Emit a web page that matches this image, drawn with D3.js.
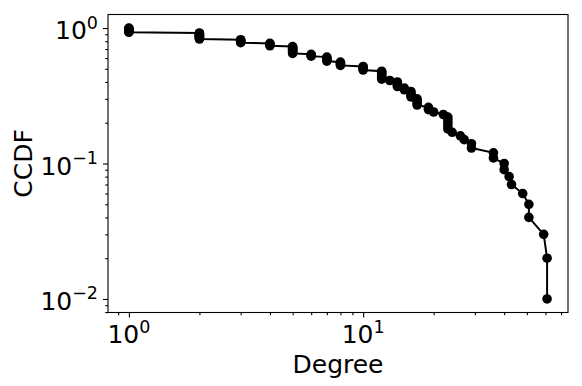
<!DOCTYPE html>
<html>
<head>
<meta charset="utf-8">
<script src="https://cdn.jsdelivr.net/npm/d3@7/dist/d3.min.js"></script>
<style>
  html, body { margin: 0; padding: 0; background: #fff; }
  svg { display: block; }
  text { font-family: "DejaVu Sans", sans-serif; fill: #000; }
</style>
</head>
<body>
<svg id="chart" width="582" height="386"></svg>
<script>
// Node degrees, sorted ascending (one entry per node)
const degree = [
  1,1,1,1,1,1,1,1,
  2,2,2,2,2,2,2,2,2,2,
  3,3,3,3,3,
  4,4,4,4,
  5,5,5,5,5,5,5,5,5,
  6,6,6,
  7,7,7,7,7,
  8,8,8,8,
  10,10,10,10,
  12,12,12,12,12,12,12,
  13,
  14,14,14,14,
  15,15,
  16,16,16,16,
  17,17,17,17,
  19,19,
  20,
  22,
  23,23,23,23,23,
  24,
  26,
  27,
  29,29,
  36,36,
  40,40,
  42,
  43,
  48,
  51,51,
  59,
  61,61
];
// CCDF value of each node above
const ccdf = [
  1.00,0.99,0.98,0.97,0.96,0.95,0.94,0.93,
  0.92,0.91,0.90,0.89,0.88,0.87,0.86,0.85,0.84,0.83,
  0.82,0.81,0.80,0.79,0.78,
  0.77,0.76,0.75,0.74,
  0.73,0.72,0.71,0.70,0.69,0.68,0.67,0.66,0.65,
  0.64,0.63,0.62,
  0.61,0.60,0.59,0.58,0.57,
  0.56,0.55,0.54,0.53,
  0.52,0.51,0.50,0.49,
  0.48,0.47,0.46,0.45,0.44,0.43,0.42,
  0.41,
  0.40,0.39,0.38,0.37,
  0.36,0.35,
  0.34,0.33,0.32,0.31,
  0.30,0.29,0.28,0.27,
  0.26,0.25,
  0.24,
  0.23,
  0.22,0.21,0.20,0.19,0.18,
  0.17,
  0.16,
  0.15,
  0.14,0.13,
  0.12,0.11,
  0.10,0.09,
  0.08,
  0.07,
  0.06,
  0.05,0.04,
  0.03,
  0.02,0.01
];
const xMajorTicks = [1, 10];
const xTickExponents = ["0", "1"];
const yMajorTicks = [1, 0.1, 0.01];
const yTickExponents = ["0", "\u22121", "\u22122"];
const xLabel = "Degree";
const yLabel = "CCDF";

const points = degree.map((d, i) => ({ d, c: ccdf[i] }));

const svg = d3.select("#chart");
const L = 108, R = 568, T = 14.5, B = 312.5;

// matplotlib-style 5% padding in log space
function padLog(ext) {
  const a = Math.log10(ext[0]), b = Math.log10(ext[1]);
  const m = (b - a) * 0.05;
  return [Math.pow(10, a - m), Math.pow(10, b + m)];
}
const x = d3.scaleLog().domain(padLog(d3.extent(degree))).range([L, R]);
const y = d3.scaleLog().domain(padLog(d3.extent(ccdf))).range([B, T]);

// minor ticks
function minorTicks(dom) {
  const out = [];
  const lo = Math.floor(Math.log10(dom[0])), hi = Math.ceil(Math.log10(dom[1]));
  for (let e = lo; e <= hi; e++) {
    for (let k = 2; k <= 9; k++) {
      const v = k * Math.pow(10, e);
      if (v >= dom[0] && v <= dom[1]) out.push(v);
    }
  }
  return out;
}

const g = svg.append("g");

const xAxis = d3.axisBottom(x).tickValues(xMajorTicks).tickSize(5).tickFormat("");
const xMinor = d3.axisBottom(x).tickValues(minorTicks(x.domain())).tickSize(2.8).tickFormat("");
const yAxis = d3.axisLeft(y).tickValues(yMajorTicks).tickSize(5).tickFormat("");
const yMinor = d3.axisLeft(y).tickValues(minorTicks(y.domain())).tickSize(2.8).tickFormat("");

[[xAxis, `translate(0,${B})`], [xMinor, `translate(0,${B})`],
 [yAxis, `translate(${L},0)`], [yMinor, `translate(${L},0)`]].forEach(([ax, tr]) => {
  const a = g.append("g").attr("transform", tr).call(ax);
  a.select(".domain").remove();
  a.selectAll("line").attr("stroke", "#000").attr("stroke-width", 1.1);
});

// x tick labels
xMajorTicks.forEach((v, i) => {
  const t = g.append("text")
    .attr("x", x(v)).attr("y", 343)
    .attr("text-anchor", "middle")
    .style("font-size", "25px");
  t.append("tspan").text("10");
  t.append("tspan").attr("dy", -10.5).style("font-size", "17.5px").text(xTickExponents[i]);
});

// y tick labels
yMajorTicks.forEach((v, i) => {
  const t = g.append("text")
    .attr("x", 98).attr("y", y(v) + 11)
    .attr("text-anchor", "end")
    .style("font-size", "25px");
  t.append("tspan").text("10");
  t.append("tspan").attr("dy", -10.5).style("font-size", "17.5px").text(yTickExponents[i]);
});

// axis labels
g.append("text")
  .attr("x", (L + R) / 2).attr("y", 373)
  .attr("text-anchor", "middle")
  .style("font-size", "25px")
  .text(xLabel);
g.append("text")
  .attr("transform", `translate(32,${(T + B) / 2}) rotate(-90)`)
  .attr("text-anchor", "middle")
  .style("font-size", "25px")
  .text(yLabel);

// line + markers
const line = d3.line().x(p => x(p.d)).y(p => y(p.c));
g.append("path")
  .datum(points)
  .attr("d", line)
  .attr("fill", "none")
  .attr("stroke", "#000")
  .attr("stroke-width", 2);
g.selectAll("circle.pt")
  .data(points)
  .join("circle")
  .attr("class", "pt")
  .attr("cx", p => x(p.d))
  .attr("cy", p => y(p.c))
  .attr("r", 4.8)
  .attr("fill", "#000");

// frame
g.append("rect")
  .attr("x", L).attr("y", T)
  .attr("width", R - L).attr("height", B - T)
  .attr("fill", "none")
  .attr("stroke", "#000")
  .attr("stroke-width", 1.1);
</script>
</body>
</html>
